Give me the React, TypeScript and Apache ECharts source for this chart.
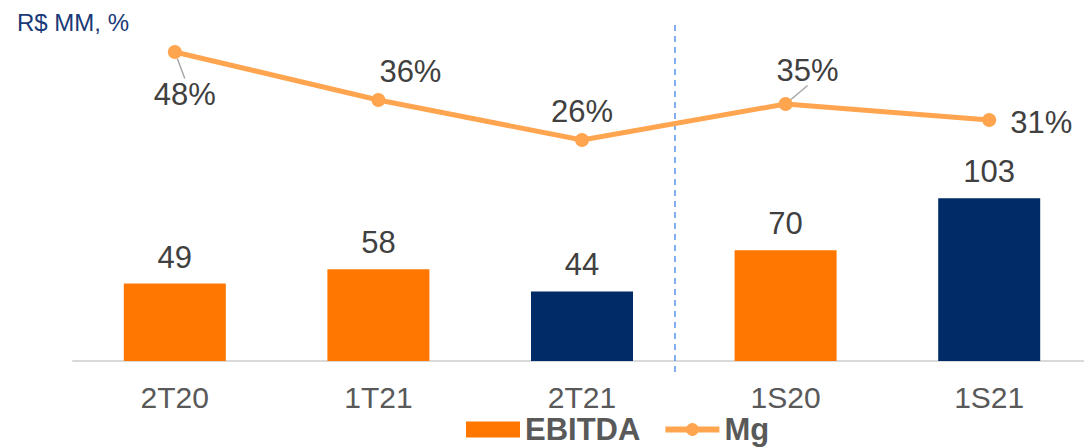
import React, { useEffect, useRef } from "react";
import * as echarts from "echarts";

const categories = ["2T20", "1T21", "2T21", "1S20", "1S21"];
const ebitda = [49, 58, 44, 70, 103];
const mg = [48, 36, 26, 35, 31];
const highlighted = [false, false, true, false, true];

const ORANGE = "#FF7700";
const NAVY = "#002B66";
const LINE = "#FFA550";
const FONT = "Arial, 'Liberation Sans', sans-serif";

// label offsets (style only)
const mgLabelOffsets = [
  [10, 42],
  [32, -29],
  [0, -29],
  [22, -34],
  [52, 2],
];
const mgLeader = [true, false, false, true, false];

export default function App() {
  const ref = useRef<HTMLDivElement>(null);
  useEffect(() => {
    if (!ref.current) return;
    const chart = echarts.init(ref.current, undefined, { renderer: "svg" });
    chart.setOption({
      animation: false,
      grid: { left: 73, right: 0, top: 40, bottom: 447 - 361 },
      title: {
        text: "R$ MM, %",
        left: 12,
        top: 5,
        textStyle: { color: "#1A3A78", fontSize: 24, fontWeight: "normal", fontFamily: FONT },
      },
      legend: {
        left: 461,
        top: 409,
        itemWidth: 54,
        itemHeight: 16,
        itemGap: 22,
        textStyle: { color: "#595959", fontSize: 31, fontWeight: "bold", fontFamily: FONT },
        data: [
          { name: "EBITDA", icon: "rect", itemStyle: { color: ORANGE } },
          { name: "Mg", lineStyle: { width: 6, color: LINE }, itemStyle: { color: LINE } },
        ],
      },
      xAxis: {
        type: "category",
        data: categories,
        axisLine: { lineStyle: { color: "#D9D9D9", width: 2 } },
        axisTick: { show: false },
        axisLabel: { color: "#595959", fontSize: 30, lineHeight: 24, fontFamily: FONT, margin: 24 },
      },
      yAxis: [
        { type: "value", min: 0, max: 203, show: false, splitLine: { show: false } },
        { type: "value", min: -29.25, max: 51, show: false, splitLine: { show: false } },
      ],
      series: [
        {
          name: "EBITDA",
          type: "bar",
          barWidth: 102,
          yAxisIndex: 0,
          data: ebitda.map((v, i) => ({
            value: v,
            itemStyle: { color: highlighted[i] ? NAVY : ORANGE },
          })),
          itemStyle: { color: ORANGE },
          label: {
            show: true,
            position: "top",
            distance: 11,
            color: "#404040",
            fontSize: 31,
            fontFamily: FONT,
          },
        },
        {
          name: "Mg",
          type: "line",
          yAxisIndex: 1,
          data: mg.map((v, i) => ({
            value: v,
            labelLine: { show: mgLeader[i], lineStyle: { color: "#A6A6A6", width: 1.5 } },
          })),
          symbol: "circle",
          symbolSize: 14,
          lineStyle: { color: LINE, width: 5 },
          itemStyle: { color: LINE },
          label: {
            show: true,
            position: "inside",
            formatter: "{c}%",
            color: "#404040",
            fontSize: 31,
            fontFamily: FONT,
          },
          labelLayout: (p: any) => ({
            dx: mgLabelOffsets[p.dataIndex][0],
            dy: mgLabelOffsets[p.dataIndex][1],
          }),
          labelLine: { show: false, lineStyle: { color: "#A6A6A6", width: 1.5 } },
          z: 3,
        },
      ],
      graphic: [
        {
          type: "line",
          shape: { x1: 675, y1: 25, x2: 675, y2: 372 },
          style: { stroke: "#5B95EC", lineWidth: 1.5, lineDash: [6, 5] },
          z: 1,
        },
      ],
    });
    return () => chart.dispose();
  }, []);
  return (
    <div style={{ position: "fixed", left: 0, top: 0, width: 1084, height: 447, overflow: "hidden", background: "#fff" }}>
      <div ref={ref} style={{ width: 1091, height: 447 }} />
    </div>
  );
}
